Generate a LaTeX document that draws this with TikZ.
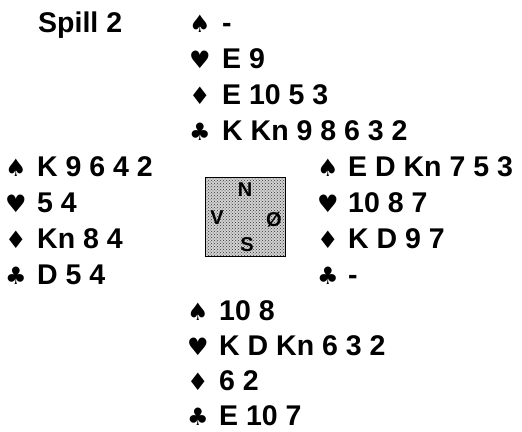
\documentclass[tikz,border=0pt]{standalone}
\usepackage{fontspec}
\setmainfont{Liberation Sans}
\newfontfamily\suitfont{DejaVu Sans}
\usetikzlibrary{patterns}
\tikzset{
  cards/.style={anchor=base west,inner sep=0pt,font=\fontsize{28.5}{32}\selectfont\bfseries},
  suit/.style={anchor=base,inner sep=0pt,font=\suitfont\fontsize{24}{28}\selectfont},
  wind/.style={inner sep=0pt,font=\fontsize{20}{22}\selectfont\bfseries}
}

\begin{document}
\begin{tikzpicture}[x=1pt,y=-1pt]
\useasboundingbox (0,0) rectangle (522,431);
\node[cards] (title) at (38,32) {Spill 2};
% north
\node[suit] (ns) at (200,32)  {♠}; \node[cards] (nsx) at (222,32)  {-};
\node[suit] (nh) at (200,68)  {♥}; \node[cards] (nhx) at (222,68)  {E 9};
\node[suit] (nd) at (200,104) {♦}; \node[cards] (ndx) at (222,104) {E 10 5 3};
\node[suit] (nc) at (200,140) {♣}; \node[cards] (ncx) at (222,140) {K Kn 9 8 6 3 2};
% west
\node[suit] (ws) at (16,176)  {♠}; \node[cards] (wsx) at (37,176)  {K 9 6 4 2};
\node[suit] (wh) at (16,212)  {♥}; \node[cards] (whx) at (37,212)  {5 4};
\node[suit] (wd) at (16,248)  {♦}; \node[cards] (wdx) at (37,248)  {Kn 8 4};
\node[suit] (wc) at (16,284)  {♣}; \node[cards] (wcx) at (37,284)  {D 5 4};
% east
\node[suit] (es) at (328,176) {♠}; \node[cards] (esx) at (348,176) {E D Kn 7 5 3};
\node[suit] (eh) at (328,212) {♥}; \node[cards] (ehx) at (348,212) {10 8 7};
\node[suit] (ed) at (328,248) {♦}; \node[cards] (edx) at (348,248) {K D 9 7};
\node[suit] (ec) at (328,284) {♣}; \node[cards] (ecx) at (348,284) {-};
% south
\node[suit] (ss) at (198,320) {♠}; \node[cards] (ssx) at (219,320) {10 8};
\node[suit] (sh) at (198,355) {♥}; \node[cards] (shx) at (219,355) {K D Kn 6 3 2};
\node[suit] (sd) at (198,390) {♦}; \node[cards] (sdx) at (219,390) {6 2};
\node[suit] (sc) at (198,425) {♣}; \node[cards] (scx) at (219,425) {E 10 7};
% compass
\node[draw,minimum width=80pt,minimum height=79pt,preaction={fill=gray!35},
  pattern=crosshatch dots,pattern color=black!80] (table) at (245,216.5) {};
\node[wind] (north) at (245,190) {N};
\node[wind] (west)  at (217,218) {V};
\node[wind] (east)  at (274,220) {Ø};
\node[wind] (south) at (247,245) {S};
\end{tikzpicture}
\end{document}
